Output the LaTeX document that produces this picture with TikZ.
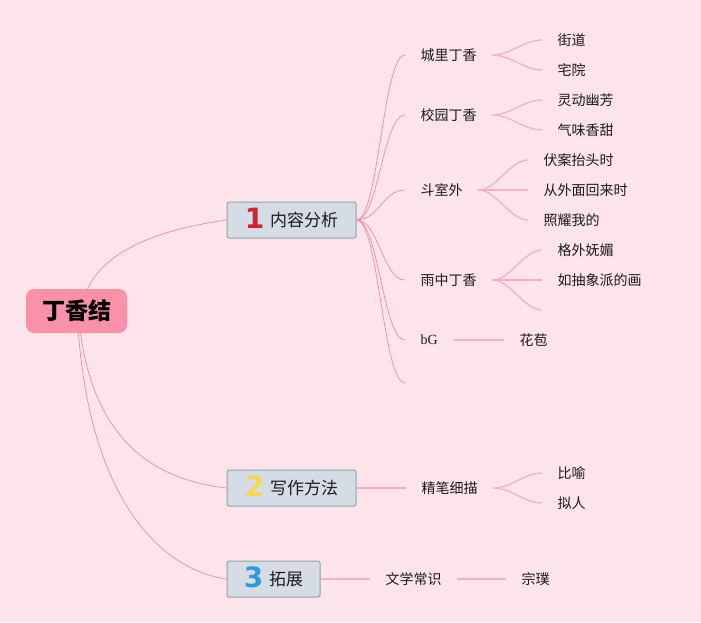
\documentclass[tikz,border=0pt]{standalone}
\usepackage{fontspec}
\setmainfont{Liberation Serif}
\newfontfamily\cjk{Noto Sans CJK SC}
\newfontfamily\digitfont{DejaVu Sans}
\definecolor{bgpink}{HTML}{FDE4EA}
\definecolor{rootpink}{HTML}{F891A9}
\definecolor{boxfill}{HTML}{D6DCE6}
\definecolor{boxedge}{HTML}{8EA6A4}
\definecolor{linkpink}{HTML}{EE8BAA}
\definecolor{sublinkpink}{HTML}{F4B0C6}
\definecolor{textdark}{HTML}{1A1A1A}
\definecolor{numred}{HTML}{D42030}
\definecolor{numyellow}{HTML}{F5D94A}
\definecolor{numblue}{HTML}{2E9BDB}
\newcommand\numlabel[2]{\smash{\raisebox{-2pt}{\digitfont\bfseries\fontsize{28}{28}\selectfont\color{#1}#2}}\hspace{6pt}}
\tikzset{
  root/.style={rounded corners=8pt, fill=rootpink, minimum width=101pt, minimum height=44pt,
    inner sep=0pt, font=\cjk\bfseries\fontsize{23}{23}\selectfont, text=black},
  mainbox/.style={draw=boxedge, line width=1pt, fill=boxfill, rounded corners=2pt,
    minimum height=36pt, inner sep=0pt, font=\cjk\fontsize{17}{17}\selectfont, text=textdark},
  topic/.style={anchor=west, inner xsep=15.5pt, inner ysep=2pt,
    font=\cjk\fontsize{14}{14}\selectfont, text=textdark},
  link/.style={draw=linkpink, line width=0.7pt},
  sublink/.style={draw=sublinkpink, line width=1.3pt}
}
\begin{document}
\begin{tikzpicture}[x=1pt,y=-1pt]
\fill[bgpink] (0,0) rectangle (701,622);
\useasboundingbox (0,0) rectangle (701,622);
% root and main topics
\node[root] (root) at (76.5,311) {丁香结};
\node[mainbox, minimum width=129pt] (analysis) at (291.5,220) {\numlabel{numred}{1}内容分析};
\node[mainbox, minimum width=129pt] (method) at (291.5,488) {\numlabel{numyellow}{2}写作方法};
\node[mainbox, minimum width=93pt] (expand) at (273.5,579) {\numlabel{numblue}{3}拓展};
\draw[link] ([xshift=11pt]root.north) .. controls +(18,-38) and +(-70,10) .. (analysis.west);
\draw[link] ([xshift=4pt]root.south) .. controls +(15,110) and +(-70,-8) .. (method.west);
\draw[link] ([xshift=2pt]root.south) .. controls +(12,160) and +(-70,-10) .. (expand.west);
% 内容分析
\node[topic] (cityclove) at (405,55) {城里丁香};
\node[topic] (campusclove) at (405,115) {校园丁香};
\node[topic] (outside) at (405,190) {斗室外};
\node[topic] (rainclove) at (405,280) {雨中丁香};
\node[topic, font=\fontsize{14}{14}\selectfont] (bud) at (405,340) {bG};
\coordinate (analysisblank) at (405,383);
\draw[link] (analysis.east) .. controls +(22,0) and +(-22,0) .. (cityclove.west);
\draw[link] (analysis.east) .. controls +(22,0) and +(-22,0) .. (campusclove.west);
\draw[link] (analysis.east) .. controls +(22,0) and +(-22,0) .. (outside.west);
\draw[link] (analysis.east) .. controls +(22,0) and +(-22,0) .. (rainclove.west);
\draw[link] (analysis.east) .. controls +(22,0) and +(-22,0) .. (bud.west);
\draw[link] (analysis.east) .. controls +(22,0) and +(-22,0) .. (analysisblank);
\node[topic] (street) at (542,40) {街道};
\node[topic] (yard) at (542,70) {宅院};
\draw[sublink] (cityclove.east) .. controls +(18,0) and +(-18,0) .. (street.west);
\draw[sublink] (cityclove.east) .. controls +(18,0) and +(-18,0) .. (yard.west);
\node[topic] (lively) at (542,100) {灵动幽芳};
\node[topic] (sweet) at (542,130) {气味香甜};
\draw[sublink] (campusclove.east) .. controls +(18,0) and +(-18,0) .. (lively.west);
\draw[sublink] (campusclove.east) .. controls +(18,0) and +(-18,0) .. (sweet.west);
\node[topic] (lookup) at (528,160) {伏案抬头时};
\node[topic] (comeback) at (528,190) {从外面回来时};
\node[topic] (shine) at (528,220) {照耀我的};
\draw[sublink] (outside.east) .. controls +(18,0) and +(-18,0) .. (lookup.west);
\draw[sublink] (outside.east) -- (comeback.west);
\draw[sublink] (outside.east) .. controls +(18,0) and +(-18,0) .. (shine.west);
\node[topic] (charming) at (542,250) {格外妩媚};
\node[topic] (painting) at (542,280) {如抽象派的画};
\coordinate (rainblank) at (542,310);
\draw[sublink] (rainclove.east) .. controls +(18,0) and +(-18,0) .. (charming.west);
\draw[sublink] (rainclove.east) -- (painting.west);
\draw[sublink] (rainclove.east) .. controls +(18,0) and +(-18,0) .. (rainblank);
\node[topic] (flowerbud) at (504,340) {花苞};
\draw[sublink] (bud.east) -- (flowerbud.west);
% 写作方法
\node[topic] (finebrush) at (406,488) {精笔细描};
\draw[sublink] (method.east) -- (finebrush.west);
\node[topic] (metaphor) at (542,473) {比喻};
\node[topic] (personify) at (542,503) {拟人};
\draw[sublink] (finebrush.east) .. controls +(18,0) and +(-18,0) .. (metaphor.west);
\draw[sublink] (finebrush.east) .. controls +(18,0) and +(-18,0) .. (personify.west);
% 拓展
\node[topic] (literature) at (370,579) {文学常识};
\node[topic] (zongpu) at (506,579) {宗璞};
\draw[sublink] (expand.east) -- (literature.west);
\draw[sublink] (literature.east) -- (zongpu.west);
\end{tikzpicture}
\end{document}
